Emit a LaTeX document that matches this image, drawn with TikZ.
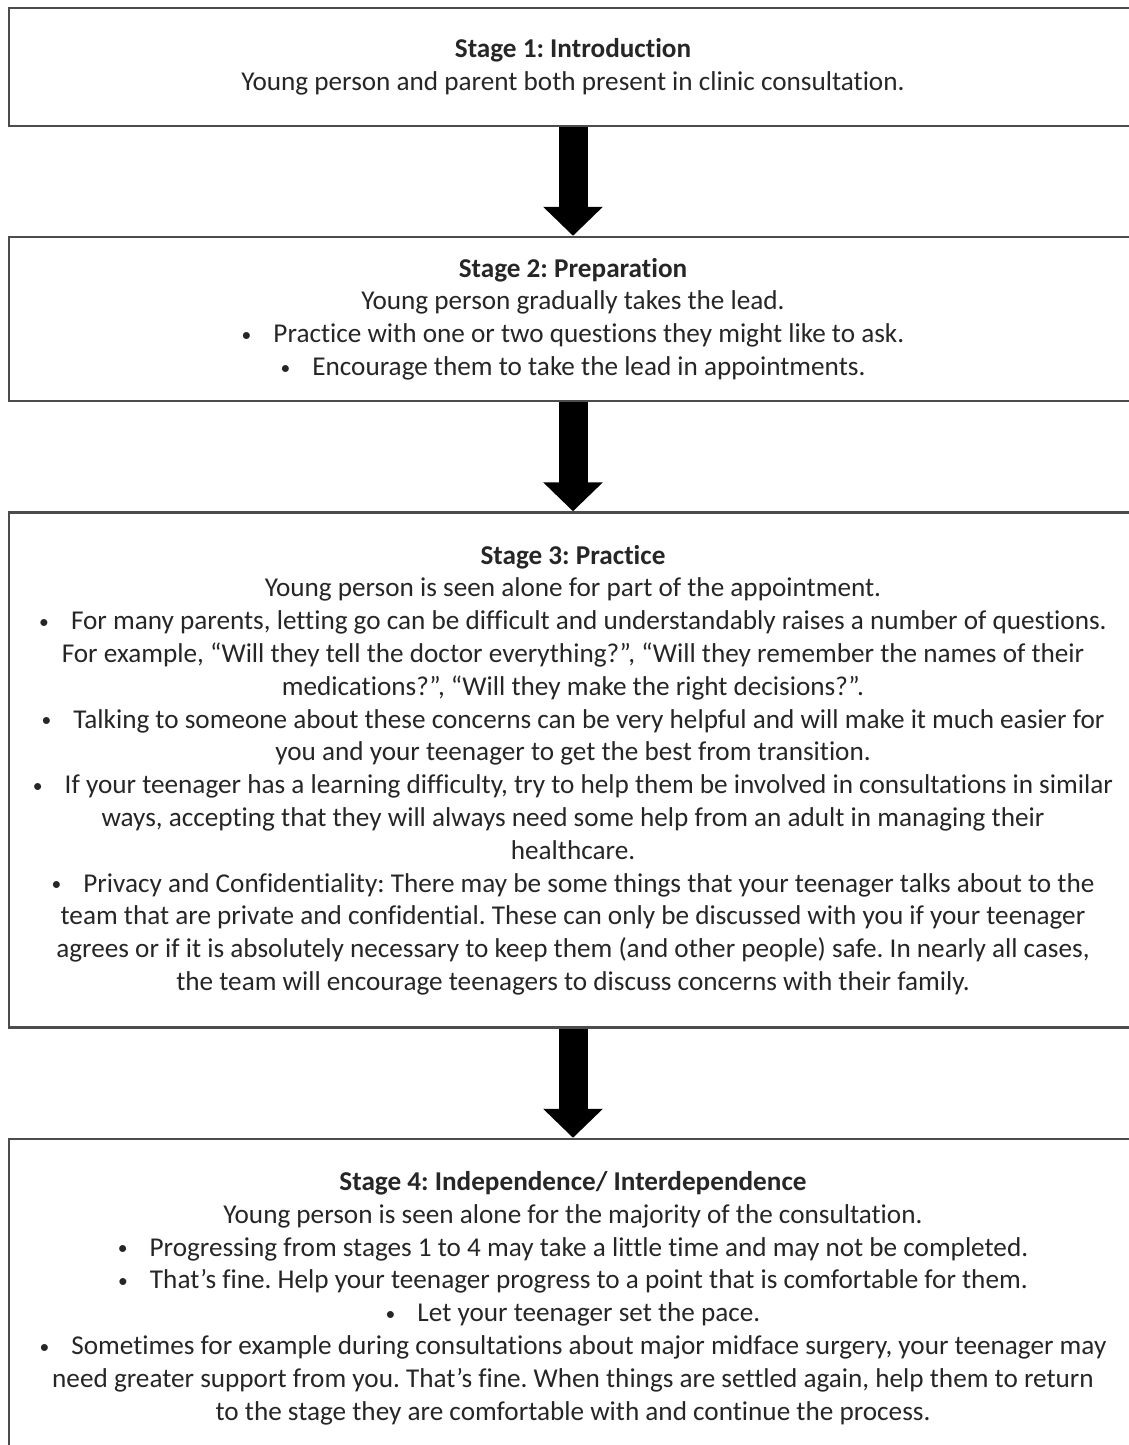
\documentclass[tikz,border=0pt]{standalone}
\usepackage{fontspec}
\setmainfont{Carlito}[Ligatures={NoCommon}]
\usepackage{tikz}
\usetikzlibrary{arrows.meta,positioning}
\frenchspacing

\newcommand{\bul}{\raisebox{0.1ex}{\scalebox{0.72}{\textbullet}}\hspace{11pt}}

\begin{document}
\begin{tikzpicture}
    [x=0.5pt,y=-0.5pt,
     every node/.style={font=\fontsize{13.6}{16.4}\selectfont,text=black!85},
     stagebox/.style={draw=black!70,line width=1.2pt,rectangle,align=center,
       minimum width=564pt,inner sep=0pt},
     bigarrow/.style={line width=14.5pt,-{Triangle[length=14.5pt,width=29pt]}}]
    \useasboundingbox (0,0) rectangle (1129,1445);
    \node[stagebox,minimum height=59pt] (s1) at (573,67) {%
      \textbf{Stage 1: Introduction}\\
      Young person and parent both present in clinic consultation.};
    \node[stagebox,minimum height=82pt] (s2) at (573,319) {%
      \textbf{Stage 2: Preparation}\\
      Young person gradually takes the lead.\\
      \bul Practice with one or two questions they might like to ask.\\
      \bul Encourage them to take the lead in appointments.};
    \node[stagebox,minimum height=257.5pt] (s3) at (573,770) {%
      \textbf{Stage 3: Practice}\\
      Young person is seen alone for part of the appointment.\\
      \bul For many parents, letting go can be difficult and understandably raises a number of questions.\\
      For example, “Will they tell the doctor everything?”, “Will they remember the names of their\\
      medications?”, “Will they make the right decisions?”.\\
      \bul Talking to someone about these concerns can be very helpful and will make it much easier for\\
      you and your teenager to get the best from transition.\\
      \bul If your teenager has a learning difficulty, try to help them be involved in consultations in similar\\
      ways, accepting that they will always need some help from an adult in managing their\\
      healthcare.\\
      \bul Privacy and Confidentiality: There may be some things that your teenager talks about to the\\
      team that are private and confidential. These can only be discussed with you if your teenager\\
      agrees or if it is absolutely necessary to keep them (and other people) safe. In nearly all cases,\\
      the team will encourage teenagers to discuss concerns with their family.};
    \node[stagebox,minimum height=159pt] (s4) at (573,1298) {%
      \textbf{Stage 4: Independence/ Interdependence}\\
      Young person is seen alone for the majority of the consultation.\\
      \bul Progressing from stages 1 to 4 may take a little time and may not be completed.\\
      \bul That’s fine. Help your teenager progress to a point that is comfortable for them.\\
      \bul Let your teenager set the pace.\\
      \bul Sometimes for example during consultations about major midface surgery, your teenager may\\
      need greater support from you. That’s fine. When things are settled again, help them to return\\
      to the stage they are comfortable with and continue the process.};
    \foreach \from/\to in {s1/s2,s2/s3,s3/s4}
      \draw [bigarrow] (\from.south) -- (\to.north);
\end{tikzpicture}
\end{document}
